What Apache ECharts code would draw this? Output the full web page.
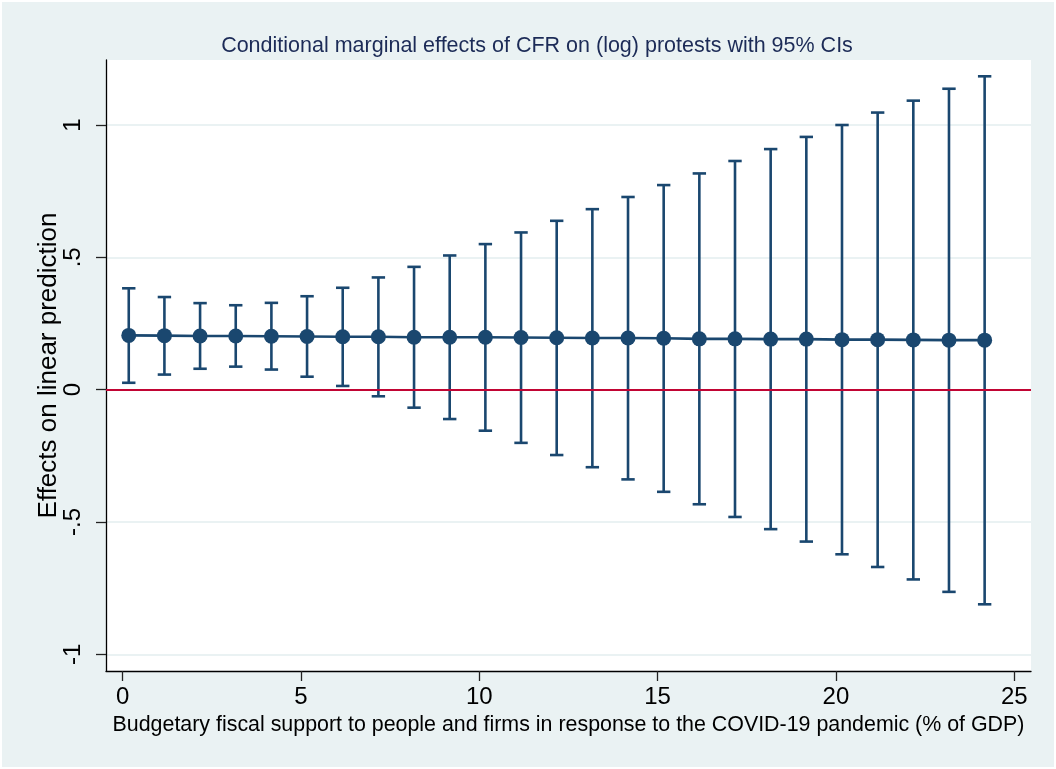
<!DOCTYPE html>
<html>
<head>
<meta charset="utf-8">
<script src="https://cdn.jsdelivr.net/npm/echarts@6/dist/echarts.min.js"></script>
<style>
html, body { margin: 0; padding: 0; background: #fff; }
#chart { width: 1056px; height: 769px; background: #eaf2f3; box-shadow: inset 0 0 0 2px #fff; }
</style>
</head>
<body>
<div id="chart"></div>
<script>
// fiscal support (% of GDP) where effects were evaluated
const xVals = [0.17, 1.17, 2.17, 3.17, 4.17, 5.17, 6.17, 7.17, 8.17, 9.17, 10.17, 11.17, 12.17,
    13.17, 14.17, 15.17, 16.17, 17.17, 18.17, 19.17, 20.17, 21.17, 22.17, 23.17, 24.17];
const estimates = [0.205, 0.204, 0.203, 0.203, 0.202, 0.201, 0.200, 0.200, 0.198, 0.198, 0.198, 0.197, 0.196,
    0.195, 0.195, 0.194, 0.192, 0.192, 0.191, 0.191, 0.189, 0.189, 0.188, 0.187, 0.187];
const ciLow = [0.026, 0.057, 0.079, 0.087, 0.076, 0.049, 0.014, -0.025, -0.068, -0.111, -0.155, -0.201, -0.247,
    -0.293, -0.339, -0.386, -0.433, -0.481, -0.527, -0.574, -0.622, -0.670, -0.717, -0.764, -0.811];
const ciHigh = [0.383, 0.350, 0.327, 0.319, 0.328, 0.353, 0.385, 0.424, 0.464, 0.507, 0.550, 0.594, 0.638,
    0.682, 0.728, 0.773, 0.817, 0.864, 0.909, 0.955, 1.000, 1.047, 1.092, 1.137, 1.184];
const xTicks = [0, 5, 10, 15, 20, 25];
const yTicks = [-1, -0.5, 0, 0.5, 1];
const yTickLabels = ['-1', '-.5', '0', '.5', '1'];
const refLine = 0;

const navy = '#1a476f';
const font = '"Liberation Sans", Arial, sans-serif';

let myChart = echarts.init(document.getElementById('chart'));

let pointData = [];
let barData = [];
xVals.forEach((x, i) => {
    pointData.push([x, estimates[i]]);
    barData.push([x, ciLow[i], ciHigh[i]]);
});

let option = {
    backgroundColor: 'transparent',
    animation: false,
    title: {
        text: 'Conditional marginal effects of CFR on (log) protests with 95% CIs',
        left: 532,
        textAlign: 'center',
        top: 30,
        textStyle: {
            fontFamily: font,
            fontSize: 21.5,
            fontWeight: 'normal',
            color: '#1c2b57'
        }
    },
    grid: {
        left: 106,
        top: 60,
        right: 25,
        bottom: 98,
        show: true,
        backgroundColor: '#fff',
        borderWidth: 0
    },
    xAxis: {
        type: 'value',
        min: -0.468,
        max: 25.47,
        name: 'Budgetary fiscal support to people and firms in response to the COVID-19 pandemic (% of GDP)',
        nameLocation: 'middle',
        nameGap: 44,
        nameMoveOverlap: false,
        nameTextStyle: {fontFamily: font, fontSize: 21.4, color: '#000'},
        axisLine: {show: true, onZero: false, lineStyle: {color: '#000', width: 1.3}},
        axisTick: {show: true, length: 10, customValues: xTicks, lineStyle: {color: '#222', width: 1.3}},
        axisLabel: {
            customValues: xTicks,
            margin: 14,
            fontFamily: font,
            fontSize: 24,
            color: '#000'
        },
        splitLine: {show: false}
    },
    yAxis: {
        type: 'value',
        min: -1.063,
        max: 1.2456,
        name: 'Effects on linear prediction',
        nameLocation: 'middle',
        nameRotate: 90,
        nameGap: 44,
        nameMoveOverlap: false,
        nameTextStyle: {fontFamily: font, fontSize: 26, color: '#000'},
        axisLine: {show: true, onZero: false, lineStyle: {color: '#000', width: 1.3}},
        axisTick: {show: true, length: 10, customValues: yTicks, lineStyle: {color: '#222', width: 1.3}},
        axisLabel: {
            customValues: yTicks,
            rotate: 90,
            margin: 21,
            fontFamily: font,
            fontSize: 24,
            color: '#000',
            formatter: v => {
                let k = yTicks.findIndex(t => Math.abs(t - v) < 1e-9);
                return k >= 0 ? yTickLabels[k] : '';
            }
        },
        splitLine: {show: true, lineStyle: {color: '#eaf2f3', width: 2}}
    },
    series: [
        {
            name: 'CI',
            type: 'custom',
            z: 2,
            encode: {x: 0, y: [1, 2]},
            data: barData,
            renderItem: function (params, api) {
                let x = api.value(0);
                let lo = api.coord([x, api.value(1)]);
                let hi = api.coord([x, api.value(2)]);
                let half = 6.7;
                let style = {stroke: navy, lineWidth: 2.6};
                return {
                    type: 'group',
                    children: [
                        {type: 'line', shape: {x1: lo[0], y1: lo[1], x2: hi[0], y2: hi[1]}, style: style},
                        {type: 'line', shape: {x1: lo[0] - half, y1: lo[1], x2: lo[0] + half, y2: lo[1]}, style: style},
                        {type: 'line', shape: {x1: hi[0] - half, y1: hi[1], x2: hi[0] + half, y2: hi[1]}, style: style}
                    ]
                };
            }
        },
        {
            name: 'zero',
            type: 'line',
            z: 3,
            data: [],
            markLine: {
                silent: true,
                symbol: 'none',
                label: {show: false},
                lineStyle: {color: '#c10534', width: 2.2, type: 'solid'},
                data: [{yAxis: refLine}]
            }
        },
        {
            name: 'Effect',
            type: 'line',
            z: 4,
            data: pointData,
            symbol: 'circle',
            symbolSize: 15,
            itemStyle: {color: navy},
            lineStyle: {color: navy, width: 2.6}
        }
    ]
};
myChart.setOption(option);
</script>
</body>
</html>
